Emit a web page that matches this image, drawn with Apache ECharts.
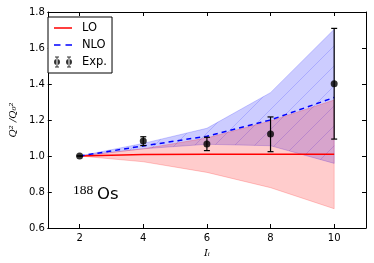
<!DOCTYPE html>
<html><head><meta charset="utf-8">
<script src="https://cdn.jsdelivr.net/npm/echarts@6/dist/echarts.min.js"></script>
<style>html,body{margin:0;padding:0;background:#fff}#c{width:374px;height:263px}</style>
</head><body><div id="c"></div>
<script>
// ---- data ----
const spins = [2, 4, 6, 8, 10];
const loValues = [1.0, 1.008, 1.01, 1.01, 1.01];
const loLower = [1.0, 0.968, 0.909, 0.824, 0.707];
const loUpper = [1.0, 1.04, 1.10, 1.195, 1.311];
const nloValues = [1.0, 1.056, 1.11, 1.20, 1.325];
const nloLower = [1.0, 1.04, 1.065, 1.057, 0.959];
const nloUpper = [1.0, 1.07, 1.154, 1.352, 1.704];
const expValues = [1.0, 1.083, 1.067, 1.122, 1.402];
const expLow = [1.0, 1.058, 1.03, 1.024, 1.094];
const expHigh = [1.0, 1.107, 1.104, 1.217, 1.709];
const xTicks = [2, 4, 6, 8, 10];
const yTicks = [0.6, 0.8, 1.0, 1.2, 1.4, 1.6, 1.8];

// hatch pattern
const P = 20;
const hc = document.createElement('canvas');
hc.width = P; hc.height = P;
const hctx = hc.getContext('2d');
hctx.strokeStyle = 'rgba(100,100,255,0.45)';
hctx.lineWidth = 0.7;
hctx.beginPath();
hctx.moveTo(-1, P + 1); hctx.lineTo(P + 1, -1);
hctx.stroke();

function band(name, lower, upper, fill, stroke, z, hatch) {
  return {
    type: 'custom', name: name, silent: true, z: z,
    data: [0],
    renderItem: function (params, api) {
      const pts = [];
      for (let i = 0; i < spins.length; i++) pts.push(api.coord([spins[i], upper[i]]));
      for (let i = spins.length - 1; i >= 0; i--) pts.push(api.coord([spins[i], lower[i]]));
      const children = [{ type: 'polygon', shape: { points: pts }, style: { fill: fill, stroke: stroke, lineWidth: 0.8 } }];
      if (hatch) children.push({ type: 'polygon', shape: { points: pts }, style: { fill: { image: hc, repeat: 'repeat' }, stroke: null } });
      return { type: 'group', children: children };
    }
  };
}

const box = 'M0,0L0.01,0L0.01,0.01Z M35.99,23.99L36,23.99L36,24Z ';
const loIcon = 'path://' + box + 'M0,10.5L36,10.5L36,13.5L0,13.5Z';
const nloIcon = 'path://' + box + 'M0,10.5L13,10.5L13,13.5L0,13.5Z M23,10.5L36,10.5L36,13.5L23,13.5Z';
const expIcon = 'path://' + box +
  'M0,12A6,6 0 1,0 12,12A6,6 0 1,0 0,12Z M5,2L7,2L7,22L5,22Z M2,1L10,1L10,3L2,3Z M2,21L10,21L10,23L2,23Z ' +
  'M24,12A6,6 0 1,0 36,12A6,6 0 1,0 24,12Z M29,2L31,2L31,22L29,22Z M26,1L34,1L34,3L26,3Z M26,21L34,21L34,23L26,23Z';

const chart = echarts.init(document.getElementById('c'));
const axisCommon = {
  axisLine: { show: true, lineStyle: { color: '#000', width: 1 } },
  splitLine: { show: false }
};
chart.setOption({
  animation: false,
  grid: { left: 42, right: 8, top: 12, bottom: 35 },
  legend: {
    orient: 'vertical', left: 48, top: 17,
    padding: [5, 5, 5, 6], itemGap: 5,
    itemWidth: 18, itemHeight: 12,
    borderColor: '#000', borderWidth: 1, borderRadius: 0,
    backgroundColor: '#fff',
    textStyle: { fontFamily: 'DejaVu Sans', fontSize: 11.5, color: '#000', padding: [0, 0, 0, 5] },
    data: [{ name: 'LO', icon: loIcon }, { name: 'NLO', icon: nloIcon }, { name: 'Exp.', icon: expIcon }]
  },
  xAxis: [
    Object.assign({}, axisCommon, {
      type: 'value', min: 1, max: 11, position: 'bottom',
      name: 'Iᵢ', nameLocation: 'middle', nameGap: 20,
      nameTextStyle: { fontFamily: 'DejaVu Serif', fontStyle: 'italic', fontSize: 10, color: '#000' },
      axisTick: { show: true, inside: true, length: 4, lineStyle: { color: '#000' }, customValues: xTicks },
      axisLabel: { fontFamily: 'DejaVu Sans', fontSize: 10, color: '#000', margin: 5, customValues: xTicks }
    }),
    Object.assign({}, axisCommon, {
      type: 'value', min: 1, max: 11, position: 'top',
      axisTick: { show: true, inside: true, length: 4, lineStyle: { color: '#000' }, customValues: xTicks },
      axisLabel: { show: false }
    })
  ],
  yAxis: [
    Object.assign({}, axisCommon, {
      type: 'value', min: 0.6, max: 1.8, position: 'left',
      name: 'Q² /Q₀²', nameLocation: 'middle', nameGap: 27, nameRotate: 90,
      nameTextStyle: { fontFamily: 'DejaVu Serif', fontStyle: 'italic', fontSize: 10, color: '#000' },
      axisTick: { show: true, inside: true, length: 4, lineStyle: { color: '#000' }, customValues: yTicks },
      axisLabel: { fontFamily: 'DejaVu Sans', fontSize: 10, color: '#000', margin: 3, customValues: yTicks, formatter: v => v.toFixed(1) }
    }),
    Object.assign({}, axisCommon, {
      type: 'value', min: 0.6, max: 1.8, position: 'right',
      axisTick: { show: true, inside: true, length: 4, lineStyle: { color: '#000' }, customValues: yTicks },
      axisLabel: { show: false }
    })
  ],
  graphic: [
    { type: 'text', left: 73, top: 183, style: { text: '188', font: '13.5px "Liberation Serif"', fill: '#000' } },
    { type: 'text', left: 97, top: 186, style: { text: 'Os', font: '16.5px "DejaVu Sans"', fill: '#000' } }
  ],
  series: [
    band('nloBand', nloLower, nloUpper, 'rgba(0,0,255,0.2)', 'rgba(0,0,255,0.25)', 1, true),
    band('loBand', loLower, loUpper, 'rgba(255,0,0,0.2)', 'rgba(255,0,0,0.25)', 2, false),
    {
      type: 'line', name: 'LO', z: 3, symbol: 'none', color: '#ff0000',
      lineStyle: { color: '#ff0000', width: 1.5 },
      data: spins.map((x, i) => [x, loValues[i]])
    },
    {
      type: 'line', name: 'NLO', z: 4, symbol: 'none', color: '#0000ff',
      lineStyle: { color: '#0000ff', width: 1.5, type: [5, 4] },
      data: spins.map((x, i) => [x, nloValues[i]])
    },
    {
      type: 'custom', name: 'expErr', z: 5, silent: true,
      data: spins.map((x, i) => [x, expLow[i], expHigh[i]]),
      renderItem: function (params, api) {
        const x = api.value(0);
        const lo = api.coord([x, api.value(1)]);
        const hi = api.coord([x, api.value(2)]);
        const st = { stroke: '#000', lineWidth: 1.2 };
        return { type: 'group', children: [
          { type: 'line', shape: { x1: lo[0], y1: lo[1], x2: hi[0], y2: hi[1] }, style: st },
          { type: 'line', shape: { x1: lo[0] - 3, y1: lo[1], x2: lo[0] + 3, y2: lo[1] }, style: st },
          { type: 'line', shape: { x1: hi[0] - 3, y1: hi[1], x2: hi[0] + 3, y2: hi[1] }, style: st }
        ] };
      }
    },
    {
      type: 'scatter', name: 'Exp.', z: 6, symbol: 'circle', symbolSize: 7, color: '#000',
      itemStyle: { color: '#000' },
      data: spins.map((x, i) => [x, expValues[i]])
    }
  ]
});
</script>
</body></html>
